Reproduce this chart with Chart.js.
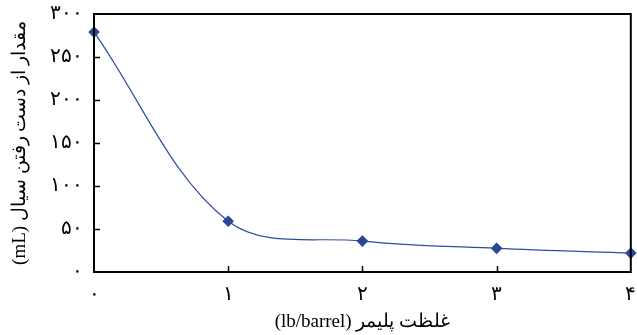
<!DOCTYPE html>
<html>
<head>
<meta charset="utf-8">
<script src="https://cdn.jsdelivr.net/npm/chart.js@4"></script>
<style>
html,body{margin:0;padding:0;background:#fff;}
#wrap{width:637px;height:335px;position:relative;}
</style>
</head>
<body>
<div id="wrap"><canvas id="c" dir="rtl"></canvas></div>
<script>
const xValues = [0, 1, 2, 3, 4];
const lossValues = [279, 59, 36, 27.5, 22];
const xTickLabels = ['۰', '۱', '۲', '۳', '۴'];
const yTickLabels = ['۰', '۵۰', '۱۰۰', '۱۵۰', '۲۰۰', '۲۵۰', '۳۰۰'];
const xTitle = 'غلظت پلیمر (lb/barrel)';
const yTitle = 'مقدار از دست رفتن سیال (mL)';

const FONT = "'Liberation Serif', 'DejaVu Serif', serif";

function noPad(s) {
  s.paddingTop = 0; s.paddingBottom = 0; s.paddingLeft = 0; s.paddingRight = 0;
}

const framePlugin = {
  id: 'frame',
  afterDatasetsDraw(chart) {
    const {ctx, chartArea: a, scales} = chart;
    ctx.save();
    ctx.strokeStyle = '#000';
    ctx.lineWidth = 1.5;
    ctx.beginPath();
    for (let v = 50; v <= 250; v += 50) {
      const y = Math.round(scales.y.getPixelForValue(v)) + 0.5;
      ctx.moveTo(a.left, y); ctx.lineTo(a.left + 6, y);
    }
    for (let v = 1; v <= 3; v++) {
      const x = Math.round(scales.x.getPixelForValue(v)) + 0.5;
      ctx.moveTo(x, a.bottom); ctx.lineTo(x, a.bottom - 6);
    }
    ctx.stroke();
    ctx.lineWidth = 2;
    ctx.strokeRect(a.left, a.top, a.right - a.left, a.bottom - a.top);
    ctx.restore();
  }
};

new Chart(document.getElementById('c'), {
  type: 'line',
  data: {
    datasets: [{
      data: xValues.map((x, i) => ({x: x, y: lossValues[i]})),
      borderColor: '#2f4d9e',
      borderWidth: 1.2,
      backgroundColor: '#2a4797',
      pointBackgroundColor: '#2a4797',
      pointBorderColor: '#2a4797',
      pointStyle: 'rectRot',
      pointRadius: 5,
      tension: 0.35,
      clip: false
    }]
  },
  options: {
    responsive: true,
    maintainAspectRatio: false,
    animation: false,
    events: [],
    layout: {padding: {top: 14, right: 4, left: 0, bottom: 0}},
    plugins: {legend: {display: false}, tooltip: {enabled: false}},
    scales: {
      x: {
        type: 'linear',
        min: 0, max: 4,
        afterFit(s) { s.height = 63; noPad(s); },
        border: {display: false},
        grid: {display: false, drawTicks: false},
        ticks: {
          stepSize: 1,
          padding: 11,
          color: '#000',
          font: {family: FONT, size: 20},
          maxRotation: 0,
          callback: (v) => xTickLabels[xValues.indexOf(v)]
        },
        title: {
          display: true,
          text: xTitle,
          color: '#000',
          font: {family: FONT, size: 19},
          padding: {top: 0, bottom: 2}
        }
      },
      y: {
        min: 0, max: 300,
        afterFit(s) { s.width = 94; noPad(s); },
        border: {display: false},
        grid: {display: false, drawTicks: false},
        ticks: {
          stepSize: 50,
          padding: 11,
          color: '#000',
          font: {family: FONT, size: 20},
          callback: (v) => yTickLabels[v / 50]
        },
        title: {
          display: true,
          text: yTitle,
          color: '#000',
          font: {family: FONT, size: 19},
          padding: {top: 9, bottom: 0}
        }
      }
    }
  },
  plugins: [framePlugin]
});
</script>
</body>
</html>
